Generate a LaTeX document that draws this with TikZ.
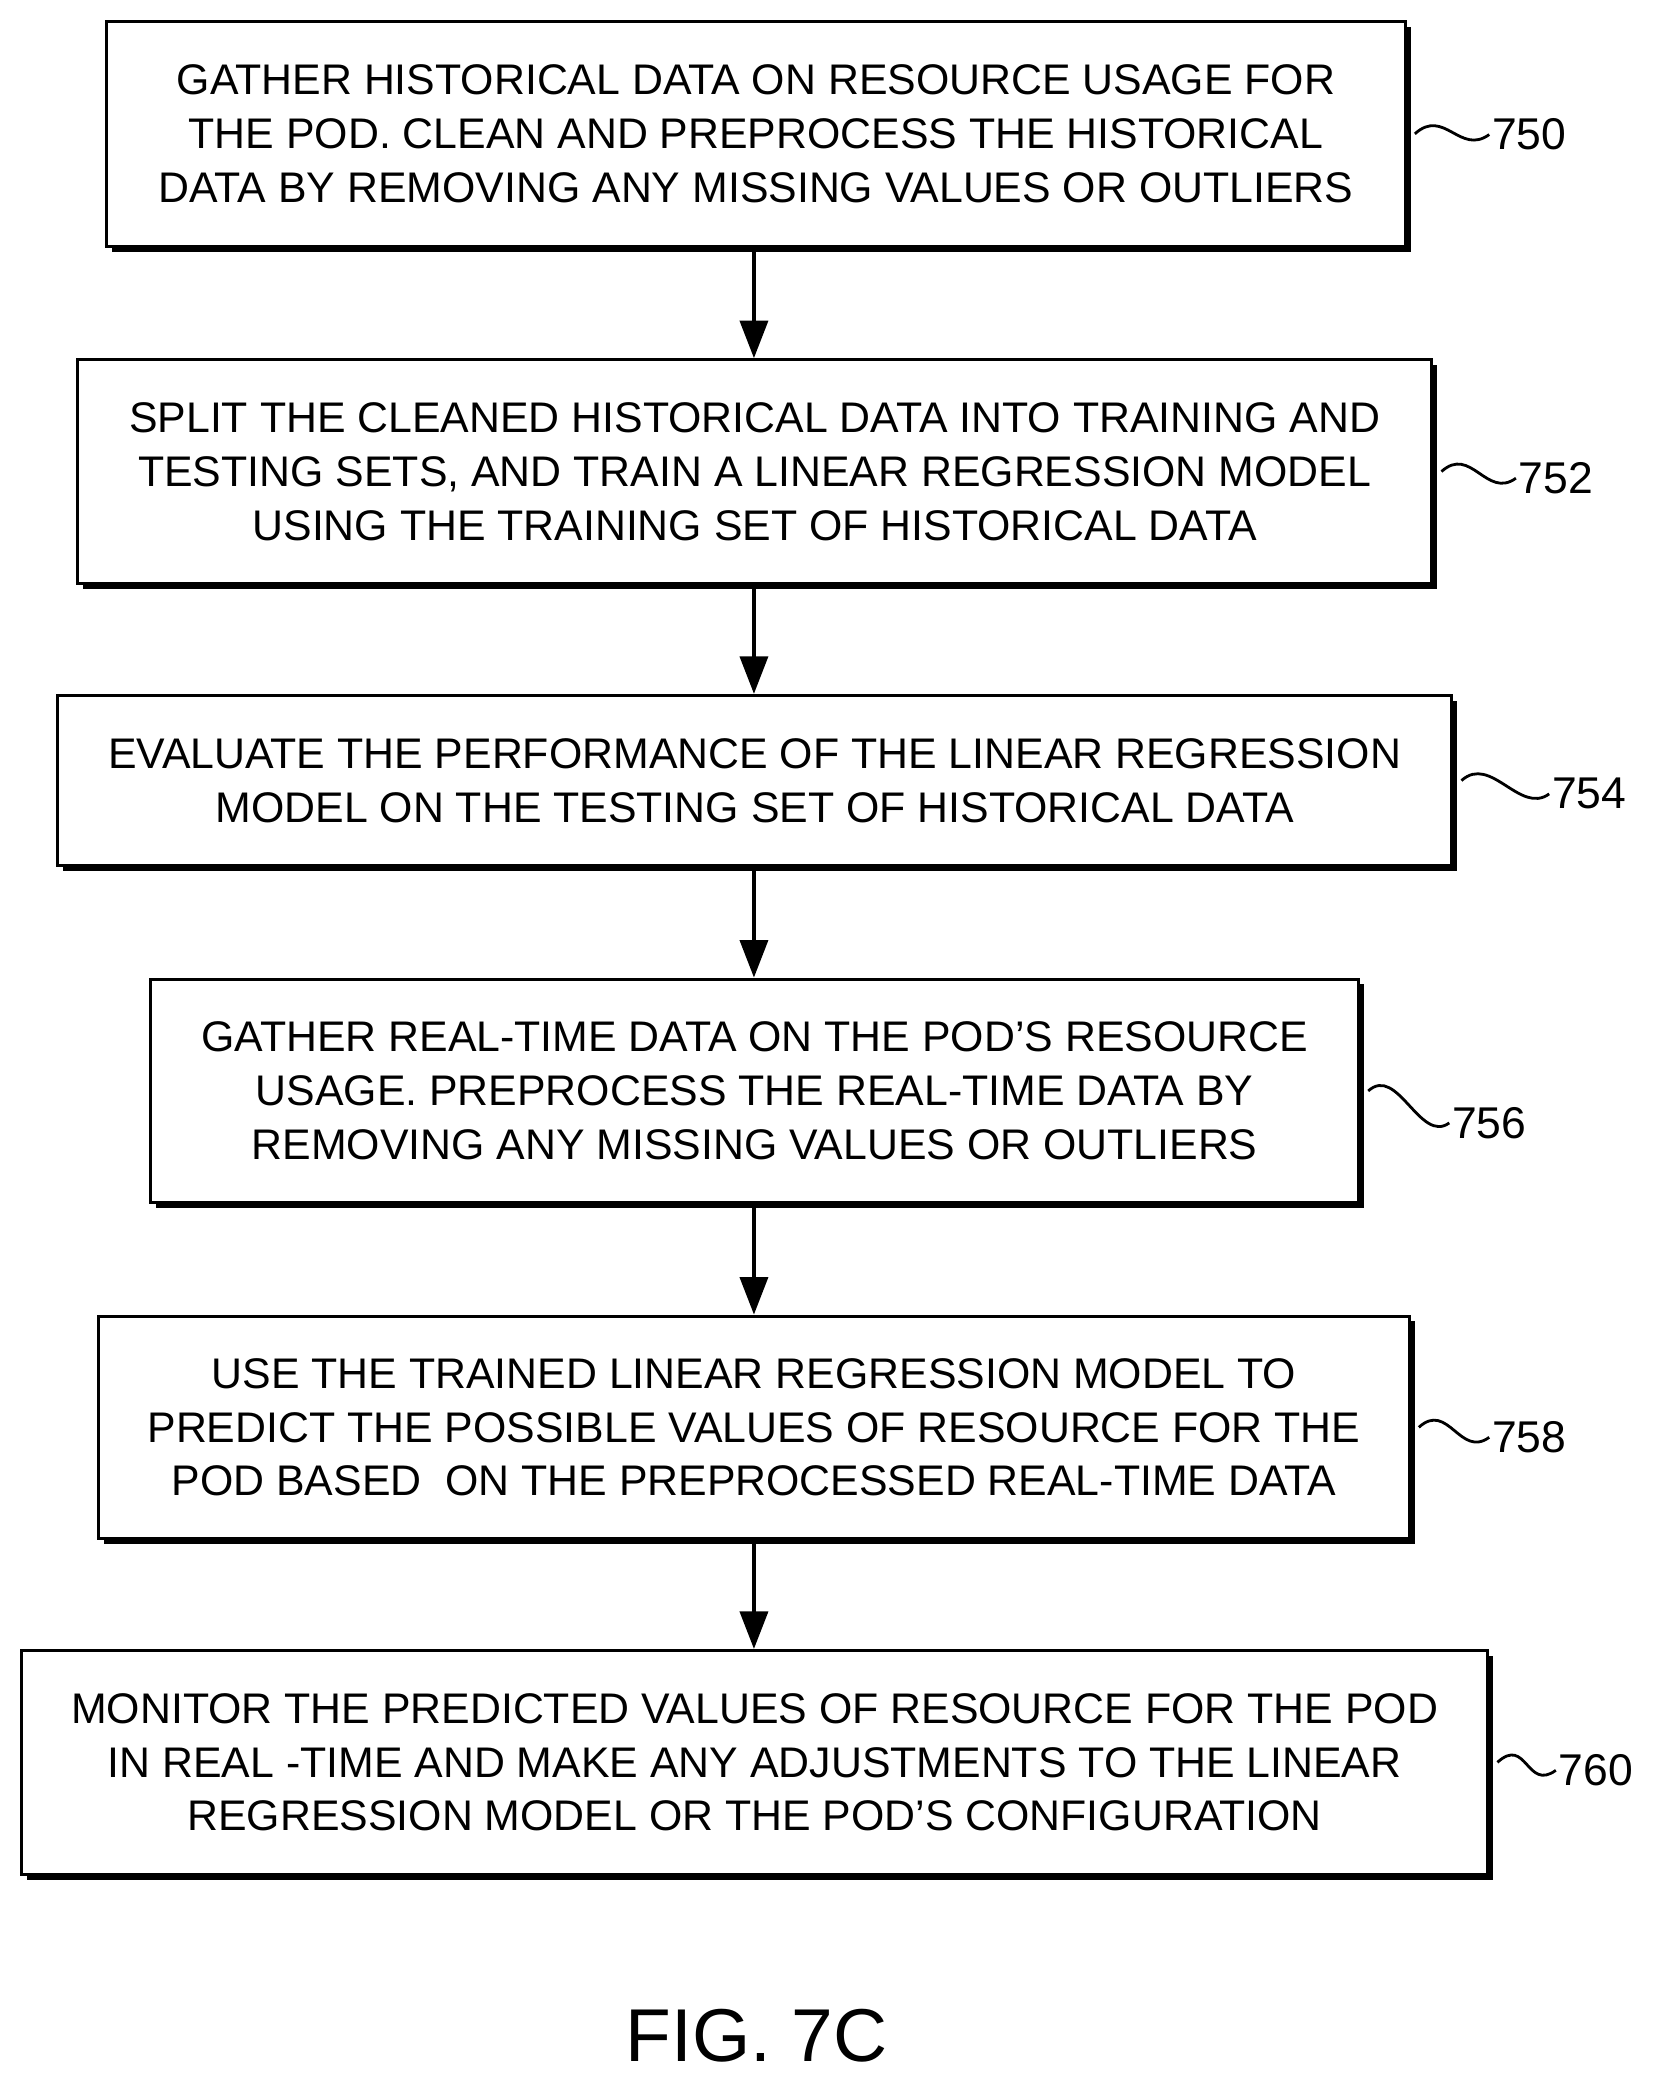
\documentclass[tikz,border=0pt]{standalone}
\usepackage{fontspec}
\setmainfont{Liberation Sans}
\usetikzlibrary{arrows.meta}
\begin{document}
\begin{tikzpicture}[x=0.02cm,y=-0.02cm,
  box/.style={draw,line width=1.3pt,align=center,font=\fontsize{18.3}{23}\selectfont,inner sep=0pt},
  lab/.style={font=\fontsize{19}{24}\selectfont,anchor=west,inner sep=1pt},
  arr/.style={line width=1.4pt,-{Triangle[length=16pt,width=12pt]}},
  tl/.style={line width=1.2pt}]
\useasboundingbox (0,0) rectangle (1245,1557);
\newcommand{\bx}[6]{%
  \fill (#1+4,#2+4) rectangle (#3+4,#4+4);
  \node[box,fill=white,minimum width={(#3-#1)*0.02cm},minimum height={(#4-#2)*0.02cm}] (#5) at ({(#1+#3)/2},{(#2+#4)/2}) {#6};}
\bx{80}{16}{1055}{185}{b750}{GATHER HISTORICAL DATA ON RESOURCE USAGE FOR\\THE POD. CLEAN AND PREPROCESS THE HISTORICAL\\DATA BY REMOVING ANY MISSING VALUES OR OUTLIERS}
\bx{58}{270}{1075}{438}{b752}{SPLIT THE CLEANED HISTORICAL DATA INTO TRAINING AND\\TESTING SETS, AND TRAIN A LINEAR REGRESSION MODEL\\USING THE TRAINING SET OF HISTORICAL DATA}
\bx{43}{522}{1090}{650}{b754}{EVALUATE THE PERFORMANCE OF THE LINEAR REGRESSION\\MODEL ON THE TESTING SET OF HISTORICAL DATA}
\bx{113}{735}{1020}{903}{b756}{GATHER REAL-TIME DATA ON THE POD'S RESOURCE\\USAGE. PREPROCESS THE REAL-TIME DATA BY\\REMOVING ANY MISSING VALUES OR OUTLIERS}
\bx{74}{988}{1058}{1155}{b758}{USE THE TRAINED LINEAR REGRESSION MODEL TO\\PREDICT THE POSSIBLE VALUES OF RESOURCE FOR THE\\POD BASED\ \ ON THE PREPROCESSED REAL-TIME DATA}
\bx{16}{1239}{1117}{1407}{b760}{MONITOR THE PREDICTED VALUES OF RESOURCE FOR THE POD\\IN REAL -TIME AND MAKE ANY ADJUSTMENTS TO THE LINEAR\\REGRESSION MODEL OR THE POD'S CONFIGURATION}
\node[lab] (l750) at (1118,101) {750};
\node[lab] (l752) at (1138,359) {752};
\node[lab] (l754) at (1163,596) {754};
\node[lab] (l756) at (1088,843) {756};
\node[lab] (l758) at (1118,1079) {758};
\node[lab] (l760) at (1168,1329) {760};
\foreach \b/\l in {b750/l750,b752/l752,b754/l754,b756/l756,b758/l758,b760/l760}
  \draw[tl] (\b.east) ++(6,0) .. controls +(22,-20) and +(-22,16) .. (\l.west);
\foreach \a/\b in {b750/b752,b752/b754,b754/b756,b756/b758,b758/b760}
  \draw[arr] (566,0 |- \a.south) -- (566,0 |- \b.north);
\node[font=\fontsize{32}{36}\selectfont] (fig) at (568,1528) {FIG. 7C};
\end{tikzpicture}
\end{document}
